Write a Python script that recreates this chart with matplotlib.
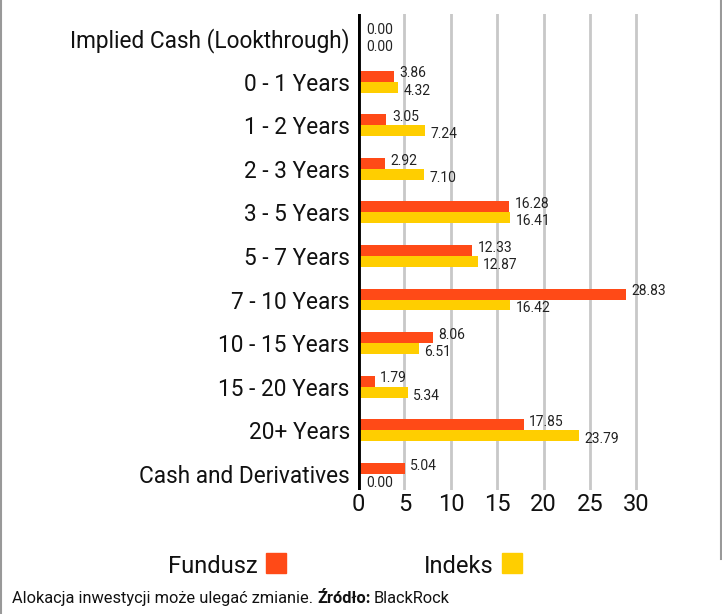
import matplotlib
matplotlib.use("Agg")
import matplotlib.pyplot as plt
from matplotlib.patches import Rectangle
from matplotlib.lines import Line2D

categories = ["Implied Cash (Lookthrough)", "0 - 1 Years", "1 - 2 Years", "2 - 3 Years",
              "3 - 5 Years", "5 - 7 Years", "7 - 10 Years", "10 - 15 Years",
              "15 - 20 Years", "20+ Years", "Cash and Derivatives"]
fundusz = [0.00, 3.86, 3.05, 2.92, 16.28, 12.33, 28.83, 8.06, 1.79, 17.85, 5.04]
indeks = [0.00, 4.32, 7.24, 7.10, 16.41, 12.87, 16.42, 6.51, 5.34, 23.79, 0.00]
xticks = [0, 5, 10, 15, 20, 25, 30]
series_names = ["Fundusz", "Indeks"]

ORANGE = "#FF4A17"
YELLOW = "#FFCE00"
FONT = "Roboto"
plt.rcParams['font.family'] = [FONT, 'DejaVu Sans']

W, H = 722, 614
fig = plt.figure(figsize=(W / 100, H / 100), dpi=100)
ax = fig.add_axes([0.496, 0.202, 0.424, 0.775])

y = list(range(len(categories)))
h = 0.25
ax.barh([v - h / 2 for v in y], fundusz, height=h, color=ORANGE, zorder=3)
ax.barh([v + h / 2 for v in y], indeks, height=h, color=YELLOW, zorder=3)

for i, (f, d) in enumerate(zip(fundusz, indeks)):
    ax.annotate(f"{f:.2f}", (f, i - h / 2), xytext=(4 if f > 0 else 6, 2), textcoords="offset points",
                ha="left", va="center", fontsize=10, color="#222222")
    ax.annotate(f"{d:.2f}", (d, i + h / 2), xytext=(4 if d > 0 else 6, -2.5), textcoords="offset points",
                ha="left", va="center", fontsize=10, color="#222222")

ax.set_xlim(0, 33)
ax.set_ylim(10.37, -0.55)
ax.set_yticks(y)
ax.set_yticklabels(categories, fontsize=16.3, color="#111111")
ax.set_xticks(xticks)
ax.set_xticklabels([str(t) for t in xticks], fontsize=17, color="#111111")
ax.tick_params(axis="both", length=0)
ax.tick_params(axis="y", pad=6)
ax.tick_params(axis="x", pad=2)
for s in ax.spines.values():
    s.set_visible(False)
for t in xticks[1:]:
    ax.axvline(t, color="#C8C8C8", lw=2.0, zorder=1)
ax.axvline(0, color="black", lw=3.5, zorder=4)

# legend (text followed by a square swatch)
legend_specs = [(series_names[0], ORANGE, 258), (series_names[1], YELLOW, 494)]
for name, col, xr in legend_specs:
    fig.text(xr, H - 573, name, fontsize=17, color="#111111", ha="right", va="baseline", transform=None)
    fig.add_artist(Rectangle((xr + 8, H - 573), 20, 20, color=col, transform=None))

base = H - 603
t1 = fig.text(12, base, "Alokacja inwestycji może ulegać zmianie. ", fontsize=11.8, color="#111111",
              ha="left", va="baseline", transform=None)
fig.canvas.draw()
r = fig.canvas.get_renderer()
bb = t1.get_window_extent(r)
t2 = fig.text(bb.x1, base, "Źródło:", fontsize=11.8, fontweight="bold", color="#111111", ha="left",
              va="baseline", transform=None)
bb2 = t2.get_window_extent(r)
fig.text(bb2.x1 + 3, base, "BlackRock", fontsize=11.8,
         color="#111111", ha="left", va="baseline", transform=None)

fig.add_artist(Line2D([0.002, 0.002], [0, 1], color="#999999", lw=1.5, transform=fig.transFigure))
fig.add_artist(Line2D([0.998, 0.998], [0.09, 1], color="#999999", lw=1.5, transform=fig.transFigure))

fig.savefig("out.png", dpi=100)
